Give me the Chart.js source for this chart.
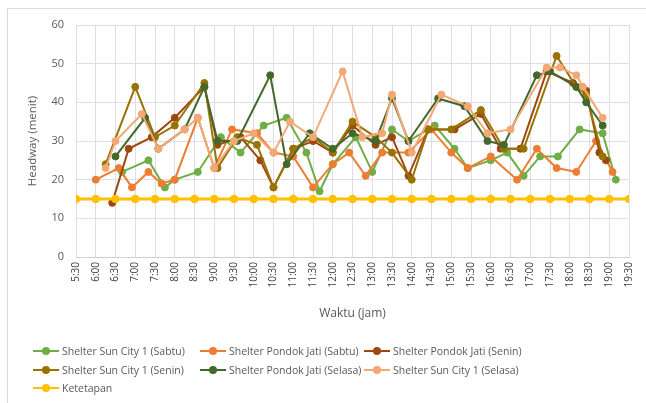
<!DOCTYPE html>
<html>
<head>
    <meta charset="utf-8">
    <title>Headway</title>
    <script src="https://cdn.jsdelivr.net/npm/chart.js"></script>
    <style>
        body { margin: 0; background: #fff; font-family: "Open Sans", "Noto Sans", sans-serif; }
        #frame { position: absolute; left: 7px; top: 8px; width: 700px; height: 500px; border: 1px solid #d9d9d9; }
        #wrap { position: absolute; left: 0; top: 0; width: 646px; height: 403px; }
        .legend { position: absolute; font-size: 10.5px; color: #595959; white-space: nowrap; line-height: 14px; }
        .legend span.key { display: inline-block; position: relative; width: 26px; height: 10px; vertical-align: middle; margin-right: 3px; top: -1px; }
        .legend span.key i { position: absolute; left: 0; right: 0; top: 4px; height: 2px; }
        .legend span.key b { position: absolute; left: 9px; top: 1px; width: 8px; height: 8px; border-radius: 50%; }
    </style>
</head>
<body>
    <div id="frame"></div>
    <div id="wrap"><canvas id="chart" width="646" height="403"></canvas></div>
    <div id="legend"></div>

    <script>
        // tick labels on the time axis (every 30 minutes)
        const timeLabels = ['5:30','6:00','6:30','7:00','7:30','8:00','8:30','9:00','9:30','10:00','10:30','11:00','11:30','12:00','12:30',
            '13:00','13:30','14:00','14:30','15:00','15:30','16:00','16:30','17:00','17:30','18:00','18:30','19:00','19:30'];

        // Shelter Sun City 1 (Sabtu)
        const scSabtuTimes = ['6:40','7:20','7:45','8:00','8:35','9:10','9:40','10:15','10:50','11:20','11:40','12:00','12:35','13:00','13:30',
            '13:55','14:35','15:05','15:25','16:00','16:25','16:50','17:15','17:42','18:15','18:50','19:10'];
        const scSabtuValues = [22,25,18,20,22,31,27,34,36,27,17,24,31,22,33,30,34,28,23,25,27,21,26,26,33,32,20];

        // Shelter Pondok Jati (Sabtu)
        const pjSabtuTimes = ['6:00','6:35','6:55','7:20','7:40','8:00','8:35','9:00','9:27','10:05','10:30','11:00','11:30','12:00','12:25',
            '12:50','13:15','13:55','14:30','15:00','15:25','16:00','16:40','17:10','17:40','18:10','18:40','19:05'];
        const pjSabtuValues = [20,23,18,22,19,20,36,23,33,32,27,26,18,24,27,21,27,27,33,27,23,26,20,28,23,22,30,22];

        // Shelter Pondok Jati (Senin)
        const pjSeninTimes = ['6:25','6:50','7:25','8:00','8:45','9:05','9:40','10:10','10:30','11:00','11:30','12:00','12:30','13:05','13:30',
            '13:55','14:25','15:05','15:45','16:15','16:45','17:25','18:05','18:25','18:45','18:55'];
        const pjSeninValues = [14,28,31,36,44,29,31,25,18,28,30,27,34,29,31,21,33,33,37,28,28,48,45,43,27,25];

        // Shelter Sun City 1 (Senin)
        const scSeninTimes = ['6:15','7:00','7:30','8:00','8:45','9:05','9:35','10:05','10:30','11:00','11:30','12:00','12:30','13:05','13:30',
            '14:00','14:25','15:00','15:45','16:20','16:50','17:40','18:10','18:25','18:50'];
        const scSeninValues = [24,44,31,34,45,23,31,29,18,28,31,27,35,31,27,20,33,33,38,28,28,52,44,42,26];

        // Shelter Pondok Jati (Selasa)
        const pjSelasaTimes = ['6:30','7:15','7:35','8:15','8:45','9:05','9:35','10:25','10:50','11:25','12:00','12:30','13:05','13:30','13:55',
            '14:40','15:20','15:55','16:20','17:10','17:30','18:10','18:25','18:50'];
        const pjSelasaValues = [26,36,28,33,44,30,30,47,24,32,28,32,30,41,30,41,39,30,29,47,48,44,40,34];

        // Shelter Sun City 1 (Selasa)
        const scSelasaTimes = ['6:15','6:30','7:10','7:35','8:15','8:35','9:00','9:30','10:00','10:30','10:55','11:30','12:15','12:45','13:15',
            '13:30','14:00','14:45','15:25','15:55','16:30','17:25','17:45','18:10','18:20','18:50'];
        const scSelasaValues = [23,30,37,28,33,36,23,30,32,27,35,31,48,31,32,42,27,42,39,32,33,49,49,47,44,36];

        // Ketetapan (standard headway)
        const ketetapanValues = [15,15,15,15,15,15,15,15,15,15,15,15,15,15,15,15,15,15,15,15,15,15,15,15,15,15,15,15,15];

        const seriesNames = ['Shelter Sun City 1 (Sabtu)','Shelter Pondok Jati (Sabtu)','Shelter Pondok Jati (Senin)',
            'Shelter Sun City 1 (Senin)','Shelter Pondok Jati (Selasa)','Shelter Sun City 1 (Selasa)','Ketetapan'];
        const seriesColors = ['#70ad47','#ed7d31','#9e480e','#997300','#43682b','#f4a873','#ffc000'];

        function toMin(t) {
            var p = t.split(':');
            return parseInt(p[0]) * 60 + parseInt(p[1]);
        }
        function fmt(m) {
            var h = Math.floor(m / 60), mm = m % 60;
            return h + ':' + (mm < 10 ? '0' : '') + mm;
        }
        function pts(times, values) {
            return times.map(function(t, i) { return { x: toMin(t), y: values[i] }; });
        }

        const allSeries = [
            pts(scSabtuTimes, scSabtuValues),
            pts(pjSabtuTimes, pjSabtuValues),
            pts(pjSeninTimes, pjSeninValues),
            pts(scSeninTimes, scSeninValues),
            pts(pjSelasaTimes, pjSelasaValues),
            pts(scSelasaTimes, scSelasaValues),
            pts(timeLabels, ketetapanValues)
        ];

        const datasets = allSeries.map(function(data, i) {
            var isK = i === 6;
            return {
                label: seriesNames[i],
                data: data,
                borderColor: seriesColors[i],
                backgroundColor: seriesColors[i],
                pointBackgroundColor: seriesColors[i],
                pointBorderColor: seriesColors[i],
                borderWidth: isK ? 3 : 2,
                pointRadius: isK ? 3.8 : 3.5,
                pointBorderWidth: 1,
                tension: 0,
                order: 6 - i
            };
        });

        const gridColor = '#e0dcec';
        const textColor = '#595959';

        new Chart(document.getElementById('chart'), {
            type: 'line',
            data: { datasets: datasets },
            options: {
                responsive: false,
                animation: false,
                layout: { padding: { left: 24, right: 13, top: 25, bottom: 82 } },
                plugins: { legend: { display: false }, tooltip: { enabled: false } },
                scales: {
                    x: {
                        type: 'linear',
                        min: 330,
                        max: 1170,
                        grid: { color: gridColor, drawTicks: false },
                        border: { color: '#d0d0d0' },
                        ticks: {
                            stepSize: 30,
                            autoSkip: false,
                            minRotation: 90,
                            maxRotation: 90,
                            padding: 5,
                            color: '#404040',
                            font: { family: 'Open Sans', size: 10 },
                            callback: function(v) { return fmt(v); }
                        },
                        title: { display: true, text: 'Waktu (jam)', color: textColor, font: { family: 'Open Sans', size: 12 }, padding: { top: 4, bottom: 0 } },
                        afterFit: function(s) { s.height = 64; }
                    },
                    y: {
                        min: 0,
                        max: 60,
                        grid: { color: gridColor, drawTicks: false },
                        border: { display: false },
                        ticks: { stepSize: 10, padding: 12, color: textColor, font: { family: 'Open Sans', size: 11 } },
                        title: { display: true, text: 'Headway (menit)', color: textColor, font: { family: 'Open Sans', size: 11.5 }, padding: 2 },
                        afterFit: function(s) { s.width = 52; }
                    }
                }
            }
        });

        // legend laid out in three columns like the original
        const legendPos = [[33,344],[200,344],[364,344],[33,363],[200,363],[364,363],[33,381]];
        const legend = document.getElementById('legend');
        seriesNames.forEach(function(name, i) {
            var d = document.createElement('div');
            d.className = 'legend';
            d.style.left = legendPos[i][0] + 'px';
            d.style.top = legendPos[i][1] + 'px';
            d.innerHTML = '<span class="key"><i style="background:' + seriesColors[i] + '"></i><b style="background:' + seriesColors[i] + '"></b></span>' + name;
            legend.appendChild(d);
        });
    </script>
</body>
</html>
